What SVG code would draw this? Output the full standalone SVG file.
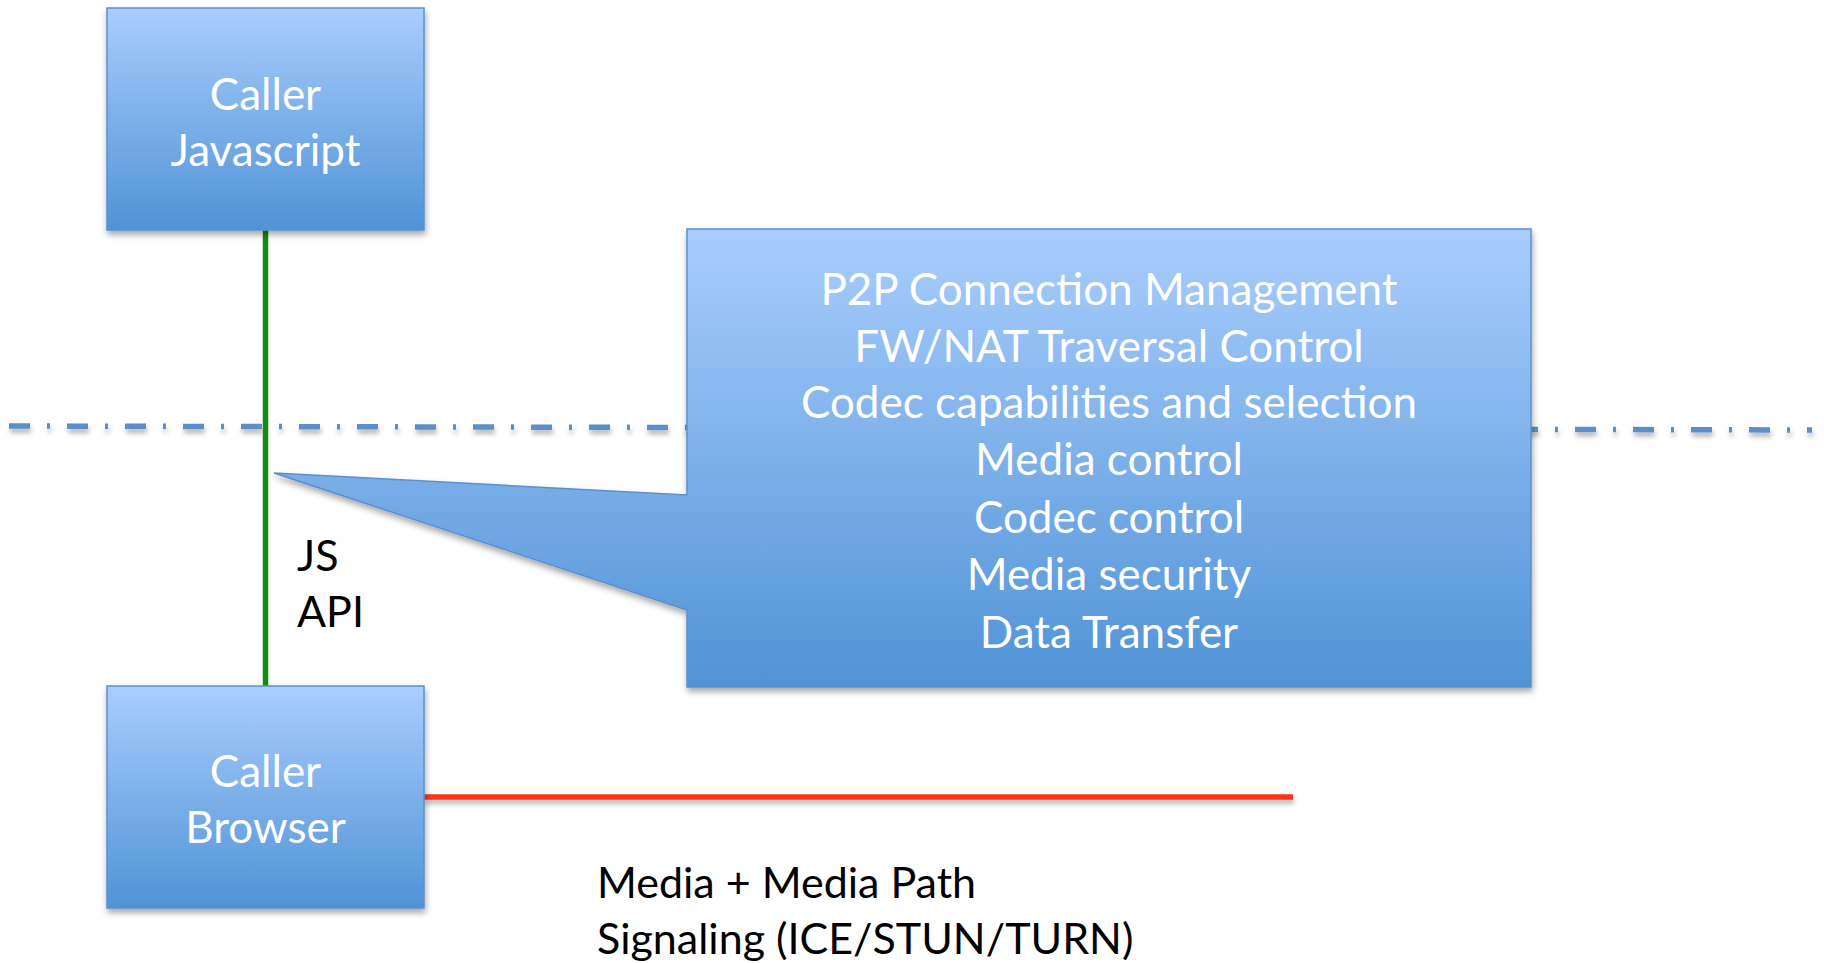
<svg xmlns="http://www.w3.org/2000/svg" width="1824" height="963" viewBox="0 0 1824 963">
<style>
.box{fill:url(#gBlue);stroke:#5c90cf;stroke-width:1.5;filter:url(#sh)}
.wt{font-family:Lato,"Open Sans","Liberation Sans",sans-serif;font-size:44px;fill:#ffffff;text-anchor:middle}
.bt{font-family:Lato,"Open Sans","Liberation Sans",sans-serif;font-size:43px;fill:#000000}
</style>
<defs>
<linearGradient id="gBlue" x1="0" y1="0" x2="0" y2="1">
<stop offset="0" stop-color="#a9cdfd"/>
<stop offset="1" stop-color="#5093d6"/>
</linearGradient>
<filter id="sh" x="-10%" y="-10%" width="130%" height="130%">
<feDropShadow dx="1" dy="4" stdDeviation="3" flood-color="#000" flood-opacity="0.35"/>
</filter>
<filter id="shL" filterUnits="userSpaceOnUse" x="0" y="0" width="1824" height="963">
<feDropShadow dx="1" dy="4" stdDeviation="2.5" flood-color="#000" flood-opacity="0.3"/>
</filter>
</defs>
<g id="connectors">
<line x1="9" y1="426" x2="1812" y2="430" stroke="#5b8fc9" stroke-width="5.5" stroke-dasharray="21 17 3 17" filter="url(#shL)"/>
<line x1="265.5" y1="230" x2="265.5" y2="686" stroke="#128c12" stroke-width="5.5"/>
<line x1="424" y1="797" x2="1293" y2="797" stroke="#ff3512" stroke-width="5.5" filter="url(#shL)"/>
</g>
<g id="caller-javascript">
<rect class="box" x="107" y="8" width="317" height="222"/>
<text class="wt" x="265.5" y="110">Caller</text>
<text class="wt" x="265.5" y="166">Javascript</text>
</g>
<g id="caller-browser">
<rect class="box" x="107" y="686" width="317" height="222"/>
<text class="wt" x="265.5" y="787">Caller</text>
<text class="wt" x="265.5" y="843">Browser</text>
</g>
<g id="callout">
<path class="box" d="M687,229 H1531 V687 H687 V610 L274,473 L687,495 Z"/>
<text class="wt" x="1109" y="305">P2P Connection Management</text>
<text class="wt" x="1109" y="362">FW/NAT Traversal Control</text>
<text class="wt" x="1109" y="418">Codec capabilities and selection</text>
<text class="wt" x="1109" y="475">Media control</text>
<text class="wt" x="1109" y="533">Codec control</text>
<text class="wt" x="1109" y="590">Media security</text>
<text class="wt" x="1109" y="648">Data Transfer</text>
</g>
<g id="js-api-label">
<text class="bt" x="297" y="571">JS</text>
<text class="bt" x="297" y="627">API</text>
</g>
<g id="media-label">
<text class="bt" x="597" y="898">Media + Media Path</text>
<text class="bt" x="597" y="954">Signaling (ICE/STUN/TURN)</text>
</g>
</svg>
